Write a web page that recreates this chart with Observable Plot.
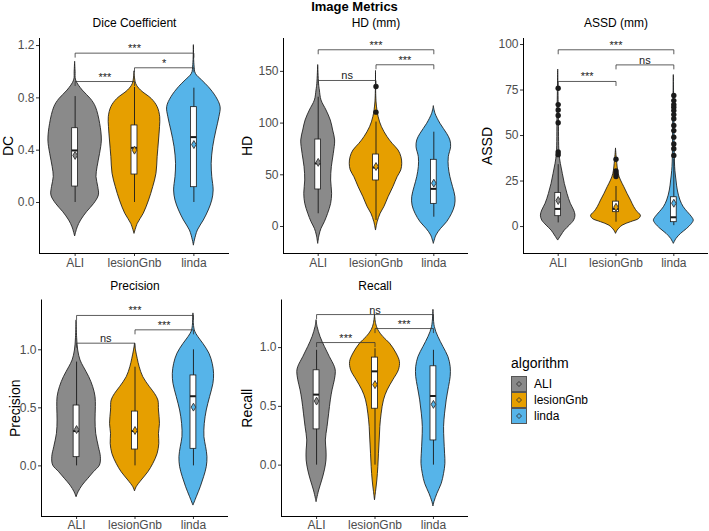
<!DOCTYPE html>
<html><head><meta charset="utf-8">
<script src="https://cdn.jsdelivr.net/npm/d3@7"></script>
<script src="https://cdn.jsdelivr.net/npm/@observablehq/plot@0.6"></script>
<style>
body{margin:0;background:#fff;font-family:"Liberation Sans",Arial,sans-serif;}
#root{position:relative;width:709px;height:531px;overflow:hidden;background:#fff;}
.panel{position:absolute;}
.panel svg{background:transparent;}
#title{position:absolute;left:0;top:0;width:709px;text-align:center;font-weight:bold;font-size:13px;line-height:13px;color:#000;}
#legend{position:absolute;left:511px;top:356px;font-size:12px;color:#000;}
#legend .ttl{font-size:14px;line-height:14px;margin-bottom:6px;}
#legend .row{display:flex;align-items:center;height:16px;}
#legend .row svg{margin-right:7px;}
</style></head><body>
<div id="root"><div id="title">Image Metrics</div><div id="legend"></div></div>
<script>
const algorithms = ["ALI", "lesionGnb", "linda"];
const palette = ["#8a8a8a", "#E69F00", "#56B4E9"];

// violin profiles: [value, half-width in category units]
const dcViolinALI = [[1.073,0],[1.0,0.008],[0.933,0.017],[0.856,0.128],[0.79,0.267],[0.729,0.35],[0.6,0.422],[0.474,0.45],[0.372,0.42],[0.27,0.378],[0.194,0.36],[0.117,0.39],[0.054,0.4],[-0.01,0.322],[-0.074,0.2],[-0.138,0.1],[-0.19,0.044],[-0.26,0]];
const dcViolinLesionGnb = [[1.0,0],[0.907,0.028],[0.856,0.11],[0.79,0.294],[0.729,0.39],[0.652,0.433],[0.576,0.43],[0.474,0.413],[0.347,0.39],[0.22,0.37],[0.117,0.315],[0.015,0.245],[-0.087,0.155],[-0.163,0.055],[-0.24,0]];
const dcViolinLinda = [[1.2,0],[1.05,0.01],[0.984,0.033],[0.933,0.139],[0.882,0.25],[0.805,0.378],[0.729,0.45],[0.652,0.43],[0.55,0.38],[0.423,0.325],[0.296,0.3],[0.194,0.31],[0.092,0.333],[0.015,0.31],[-0.061,0.25],[-0.138,0.167],[-0.214,0.067],[-0.29,0.017],[-0.33,0]];

const hdViolinALI = [[155.7,0],[138,0.015],[131.5,0.029],[121.9,0.057],[112.2,0.144],[102.5,0.218],[92.8,0.259],[83.2,0.293],[70.3,0.27],[57.4,0.236],[44.5,0.224],[31.6,0.241],[21.9,0.224],[12.3,0.172],[4.2,0.115],[-2.3,0.057],[-8.7,0.023],[-16.8,0]];
const hdViolinLesionGnb = [[150,0],[120,0.01],[105.7,0.046],[96,0.103],[86.4,0.2],[80,0.287],[73.5,0.39],[67,0.44],[60.6,0.454],[54.2,0.437],[47.7,0.374],[38,0.3],[28.4,0.218],[18.7,0.144],[12.3,0.08],[4.2,0.029],[-3.9,0]];
const hdViolinLinda = [[116,0],[109,0.029],[99.3,0.115],[89.6,0.23],[83.2,0.287],[76.7,0.299],[67,0.259],[57.4,0.259],[47.7,0.287],[38,0.333],[28.4,0.374],[20.3,0.368],[12.3,0.316],[4.2,0.23],[-2.3,0.126],[-8.7,0.046],[-16.8,0]];

const assdViolinALI = [[86,0],[60,0.012],[40,0.023],[34.4,0.046],[28.9,0.08],[23.4,0.115],[17.9,0.161],[12.5,0.218],[8.8,0.276],[6,0.299],[3.3,0.276],[0.5,0.2],[-2.2,0.115],[-4.9,0.057],[-7.7,0]];
const assdViolinLesionGnb = [[42.7,0],[36.3,0.017],[28.9,0.046],[25.3,0.086],[21.6,0.144],[17.9,0.2],[14.3,0.259],[10.6,0.316],[7.9,0.374],[6,0.431],[4.2,0.402],[2.4,0.259],[0.5,0.115],[-2.2,0.029],[-4,0]];
const assdViolinLinda = [[83,0],[60,0.01],[32.6,0.023],[25.3,0.046],[19.8,0.069],[14.3,0.115],[10.6,0.172],[7.9,0.241],[5.1,0.316],[3.3,0.345],[1.5,0.316],[-1.3,0.23],[-4,0.126],[-6.8,0.046],[-9.5,0]];

const precisionViolinALI = [[1.25,0],[1.1,0.01],[0.994,0.028],[0.908,0.068],[0.85,0.125],[0.764,0.217],[0.678,0.285],[0.592,0.325],[0.506,0.33],[0.391,0.325],[0.276,0.336],[0.161,0.382],[0.075,0.416],[0.003,0.4],[-0.055,0.296],[-0.112,0.2],[-0.17,0.103],[-0.227,0.034],[-0.27,0]];
const precisionViolinLesionGnb = [[1.05,0],[0.994,0.017],[0.922,0.046],[0.85,0.08],[0.764,0.142],[0.678,0.256],[0.62,0.342],[0.563,0.4],[0.477,0.41],[0.362,0.427],[0.276,0.41],[0.19,0.416],[0.103,0.387],[0.017,0.313],[-0.055,0.228],[-0.126,0.114],[-0.184,0.028],[-0.22,0]];
const precisionViolinLinda = [[1.31,0],[1.167,0.023],[1.109,0.085],[1.05,0.171],[0.966,0.274],[0.879,0.33],[0.793,0.353],[0.707,0.342],[0.592,0.285],[0.477,0.228],[0.362,0.194],[0.247,0.188],[0.161,0.217],[0.075,0.24],[-0.011,0.228],[-0.098,0.182],[-0.184,0.125],[-0.27,0.057],[-0.342,0]];

const recallViolinALI = [[1.23,0],[1.176,0.017],[1.09,0.068],[1.006,0.142],[0.92,0.227],[0.835,0.313],[0.793,0.33],[0.722,0.313],[0.636,0.273],[0.551,0.244],[0.438,0.216],[0.324,0.188],[0.21,0.159],[0.125,0.17],[0.04,0.17],[-0.045,0.142],[-0.131,0.097],[-0.216,0.045],[-0.287,0.011],[-0.315,0]];
const recallViolinLesionGnb = [[1.276,0],[1.2,0.02],[1.148,0.057],[1.09,0.142],[1.034,0.256],[0.949,0.369],[0.878,0.426],[0.807,0.409],[0.722,0.313],[0.636,0.216],[0.551,0.153],[0.438,0.114],[0.324,0.091],[0.21,0.08],[0.097,0.068],[-0.017,0.057],[-0.131,0.04],[-0.23,0.017],[-0.3,0]];
const recallViolinLinda = [[1.318,0],[1.176,0.023],[1.09,0.085],[1.006,0.17],[0.92,0.256],[0.835,0.295],[0.75,0.295],[0.665,0.267],[0.551,0.227],[0.438,0.199],[0.324,0.182],[0.21,0.188],[0.097,0.199],[0.011,0.205],[-0.074,0.182],[-0.159,0.142],[-0.244,0.068],[-0.315,0.017],[-0.352,0]];

// box stats per algorithm: [lower whisker, Q1, median, Q3, upper whisker, mean]
const dcBoxStats = [[0,0.122,0.398,0.568,0.81,0.36],[0,0.214,0.418,0.589,0.88,0.40],[0,0.117,0.5,0.729,0.874,0.443]];
const hdBoxStats = [[12.3,35.8,61,84.1,125,62],[5.8,44.5,57,69.6,101,58],[9,21.9,36.4,64.5,91.2,41.9]];
const assdBoxStats = [[2,5.7,9.7,18.5,34,14.3],[2.4,7.9,9.7,13.7,22,10.6],[0.5,2.4,5.1,16.1,37,12.8]];
const precisionBoxStats = [[0,0.075,0.30,0.52,0.894,0.313],[0,0.141,0.30,0.468,0.85,0.305],[0,0.147,0.6,0.779,1.0,0.506]];
const recallBoxStats = [[0,0.304,0.6,0.807,0.977,0.545],[0,0.48,0.798,0.915,0.99,0.685],[0,0.21,0.588,0.841,0.977,0.517]];

// outliers per algorithm
const dcOutliers = [[],[],[]];
const hdOutliers = [[],[135.4,110.6],[]];
const assdOutliers = [[76,67,64,61,57,41,39.5],[37,30.5,29,27.5],[72,69.2,67,65.6,63.7,61.5,59.2,55.5,52.7,49.1,45.4,42.7,39]];
const precisionOutliers = [[],[],[]];
const recallOutliers = [[],[],[]];

// significance brackets: [from, to, height, label]
const dcBrackets = [["ALI","linda",1.142,"***"],["lesionGnb","linda",1.03,"*"],["ALI","lesionGnb",0.925,"***"]];
const hdBrackets = [["ALI","linda",170.9,"***"],["lesionGnb","linda",156.4,"***"],["ALI","lesionGnb",141.2,"ns"]];
const assdBrackets = [["ALI","linda",97.1,"***"],["lesionGnb","linda",88.8,"ns"],["ALI","lesionGnb",79.7,"***"]];
const precisionBrackets = [["ALI","linda",1.296,"***"],["lesionGnb","linda",1.172,"***"],["ALI","lesionGnb",1.057,"ns"]];
const recallBrackets = [["ALI","linda",1.281,"ns"],["lesionGnb","linda",1.162,"***"],["ALI","lesionGnb",1.043,"***"]];

// tick values
const dcTicks = [0, 0.4, 0.8, 1.2];
const hdTicks = [0, 50, 100, 150];
const assdTicks = [0, 25, 50, 75, 100];
const precisionTicks = [0, 0.5, 1.0];
const recallTicks = [0, 0.5, 1.0];

const panels = [
  {title:"Dice Coefficient", ylabel:"DC", violins:[dcViolinALI,dcViolinLesionGnb,dcViolinLinda], box:dcBoxStats, out:dcOutliers, br:dcBrackets, ticks:dcTicks, fmt:d3.format(".1f"),
   left:0, top:0, width:236, height:272, ml:39, mr:7, mt:38, mb:19, domain:[-0.39,1.254], ylabX:8, titleY:22.5, pad:2},
  {title:"HD (mm)", ylabel:"HD", violins:[hdViolinALI,hdViolinLesionGnb,hdViolinLinda], box:hdBoxStats, out:hdOutliers, br:hdBrackets, ticks:hdTicks, fmt:d3.format("d"),
   left:236, top:0, width:236, height:272, ml:47, mr:4, mt:38, mb:19, domain:[-26.1,181.8], ylabX:10.7, titleY:22.5, pad:2},
  {title:"ASSD (mm)", ylabel:"ASSD", violins:[assdViolinALI,assdViolinLesionGnb,assdViolinLinda], box:assdBoxStats, out:assdOutliers, br:assdBrackets, ticks:assdTicks, fmt:d3.format("d"),
   left:472, top:0, width:237, height:272, ml:51, mr:1, mt:38, mb:19, domain:[-14.8,103.3], ylabX:14.7, titleY:22.5, pad:2},
  {title:"Precision", ylabel:"Precision", violins:[precisionViolinALI,precisionViolinLesionGnb,precisionViolinLinda], box:precisionBoxStats, out:precisionOutliers, br:precisionBrackets, ticks:precisionTicks, fmt:d3.format(".1f"),
   left:0, top:272, width:236, height:259, ml:41, mr:8, mt:27.5, mb:15, domain:[-0.436,1.429], ylabX:15, titleY:13.5, pad:0.5},
  {title:"Recall", ylabel:"Recall", violins:[recallViolinALI,recallViolinLesionGnb,recallViolinLinda], box:recallBoxStats, out:recallOutliers, br:recallBrackets, ticks:recallTicks, fmt:d3.format(".1f"),
   left:236, top:272, width:236, height:259, ml:45, mr:4, mt:27.5, mb:15, domain:[-0.437,1.405], ylabX:10.7, titleY:13.5, pad:0.5}
];

const root = document.getElementById("root");
const pos = name => algorithms.indexOf(name) + 1;
const BW = 0.05;
const ink = "#1a1a1a";

for (const p of panels) {
  const [y0, y1] = p.domain;
  const tip = (y1 - y0) * 0.019;
  const marks = [];
  p.violins.forEach((prof, i) => {
    marks.push(Plot.areaX(prof, {y: d => d[0], x1: d => i + 1 - d[1], x2: d => i + 1 + d[1],
      fill: palette[i], stroke: ink, strokeWidth: 0.85, curve: "catmull-rom"}));
  });
  const boxes = p.box.map((b, i) => ({x: i + 1, wlo: b[0], q1: b[1], med: b[2], q3: b[3], whi: b[4], mean: b[5], c: palette[i]}));
  marks.push(Plot.ruleX(boxes, {x: "x", y1: "wlo", y2: "whi", stroke: ink, strokeWidth: 0.9}));
  marks.push(Plot.rect(boxes, {x1: d => d.x - BW, x2: d => d.x + BW, y1: "q1", y2: "q3", fill: "white", stroke: ink, strokeWidth: 0.8}));
  marks.push(Plot.ruleY(boxes, {y: "med", x1: d => d.x - BW, x2: d => d.x + BW, stroke: ink, strokeWidth: 2}));
  const outs = p.out.flatMap((arr, i) => arr.map(v => ({x: i + 1, y: v})));
  marks.push(Plot.dot(outs, {x: "x", y: "y", r: 2.7, fill: ink, stroke: "none"}));
  marks.push(Plot.dot(boxes, {x: "x", y: "mean", symbol: "diamond", r: 2.4, fill: "c", stroke: "#333", strokeWidth: 0.9}));
  // brackets
  const bpts = p.br.flatMap((b, k) => {
    const xa = pos(b[0]), xb = pos(b[1]), h = b[2];
    return [{k, x: xa, y: h - tip}, {k, x: xa, y: h}, {k, x: xb, y: h}, {k, x: xb, y: h - tip}];
  });
  marks.push(Plot.line(bpts, {x: "x", y: "y", z: "k", stroke: "#333", strokeWidth: 0.8}));
  marks.push(Plot.text(p.br, {x: b => (pos(b[0]) + pos(b[1])) / 2, y: b => b[2], text: b => b[3],
    lineAnchor: "bottom", dy: -1, fontSize: 11, fill: "#222"}));
  // axes
  marks.push(Plot.axisY({ticks: p.ticks, tickFormat: p.fmt, tickSize: 3, tickPadding: 2, label: null, stroke: "#333", fill: "#4d4d4d", fontSize: 12}));
  marks.push(Plot.axisX({ticks: [1, 2, 3], tickFormat: i => algorithms[i - 1], tickSize: 3, tickPadding: p.pad, label: null, stroke: "#333", fill: "#4d4d4d", fontSize: 12}));
  marks.push(Plot.ruleX([0.4], {stroke: "black", strokeWidth: 1}));
  marks.push(Plot.ruleY([y0], {stroke: "black", strokeWidth: 1}));
  marks.push(Plot.text([p.title], {text: d => d, frameAnchor: "top", dy: p.titleY - p.mt, lineAnchor: "middle", fontSize: 12, fill: "black"}));
  marks.push(Plot.text([p.ylabel], {text: d => d, frameAnchor: "left", dx: p.ylabX - p.ml, rotate: -90, textAnchor: "middle", lineAnchor: "middle", fontSize: 14, fill: "black"}));

  const chart = Plot.plot({
    width: p.width, height: p.height,
    marginLeft: p.ml, marginRight: p.mr, marginTop: p.mt, marginBottom: p.mb,
    x: {type: "linear", domain: [0.4, 3.6]},
    y: {domain: p.domain},
    style: {fontFamily: "'Liberation Sans', Arial, sans-serif", background: "transparent", overflow: "visible"},
    marks
  });
  const div = document.createElement("div");
  div.className = "panel";
  div.style.left = p.left + "px";
  div.style.top = p.top + "px";
  div.appendChild(chart);
  root.appendChild(div);
}

// legend
const legend = document.getElementById("legend");
const lt = document.createElement("div"); lt.className = "ttl"; lt.textContent = "algorithm"; legend.appendChild(lt);
algorithms.forEach((a, i) => {
  const row = document.createElement("div"); row.className = "row";
  row.innerHTML = `<svg width="16" height="16"><rect x="0.5" y="0.5" width="15" height="15" fill="${palette[i]}" stroke="#555"/><path d="M8,5.5L10.5,8L8,10.5L5.5,8Z" fill="${palette[i]}" stroke="#333" stroke-width="0.9"/></svg><span>${a}</span>`;
  legend.appendChild(row);
});
</script></body></html>
